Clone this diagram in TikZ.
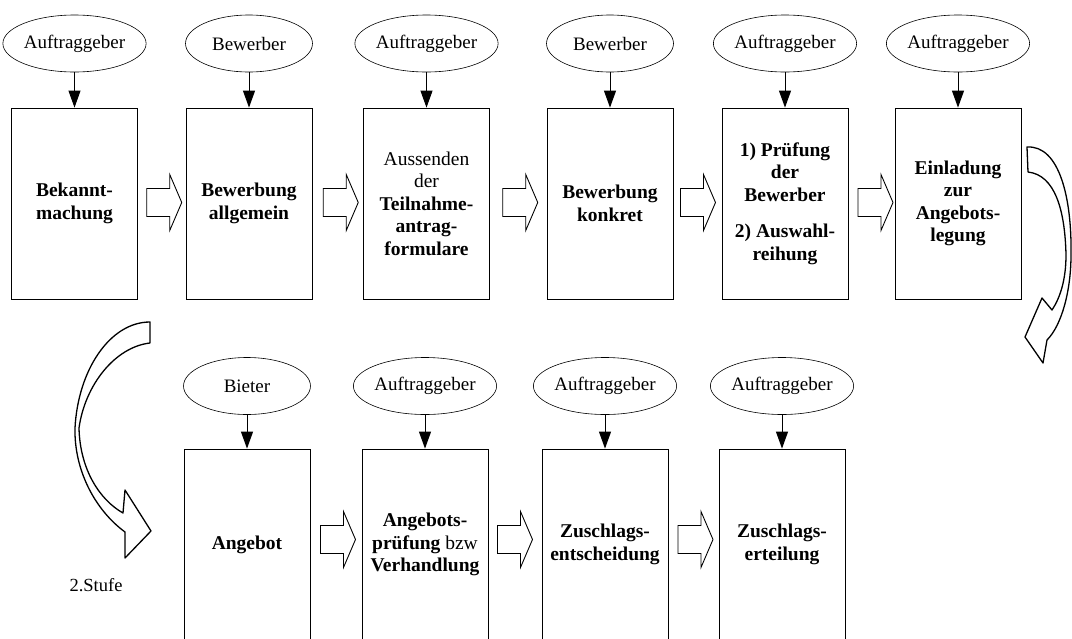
\documentclass[tikz,border=0pt]{standalone}
\usepackage{fontspec}
\setmainfont{Liberation Serif}
\usetikzlibrary{shapes.geometric,arrows.meta,calc}

\tikzset{
  actor/.style={ellipse, draw, line width=0.6pt, minimum width=127pt,
    minimum height=57pt, inner sep=0pt, font=\fontsize{19}{22}\selectfont},
  stepbox/.style={draw, line width=0.8pt, minimum width=126pt,
    minimum height=191pt, inner sep=0pt, align=center,
    font=\bfseries\fontsize{19.5}{22.5}\selectfont},
  feed/.style={-{Triangle[length=17pt,width=12pt]}, line width=1pt},
  ribbon/.style={draw, line width=1.3pt, line join=round, fill=white},
  barrow/.pic={
    \draw[line width=0.9pt, line join=miter, fill=white]
      (-17.5,-14) -- (5.5,-14) -- (5.5,-28) -- (17.5,0) -- (5.5,28)
      -- (5.5,14) -- (-17.5,14) -- cycle;
  }
}

\begin{document}
\begin{tikzpicture}[x=1pt, y=-1pt]
\useasboundingbox (0,0) rectangle (1072,638);

% ---- first stage: parties ----
\node[actor] (p1) at (74.5,43.5)  {Auftraggeber};
\node[actor] (p2) at (249,43.5)   {Bewerber};
\node[actor] (p3) at (426.5,43.5) {Auftraggeber};
\node[actor] (p4) at (610,43.5)   {Bewerber};
\node[actor] (p5) at (785,43.5)   {Auftraggeber};
\node[actor] (p6) at (958,43.5)   {Auftraggeber};

% ---- first stage: steps ----
\node[stepbox] (s1) at (74.5,203.5)  {Bekannt-\\machung};
\node[stepbox] (s2) at (249,203.5)   {Bewerbung\\allgemein};
\node[stepbox] (s3) at (426.5,203.5) {\mdseries Aussenden\\\mdseries der\\\bfseries Teilnahme-\\\bfseries antrag-\\\bfseries formulare};
\node[stepbox] (s4) at (610,203.5)   {Bewerbung\\konkret};
\node[stepbox] (s5) at (785,203.5)   {1) Prüfung\\der\\Bewerber\\[14pt]2) Auswahl-\\reihung};
\node[stepbox] (s6) at (958,203.5)   {Einladung\\zur\\Angebots-\\legung};

\foreach \i in {1,...,6} { \draw[feed] (p\i) -- (s\i); }

\path ($(s1.east)!0.5!(s2.west)$) ++(2.5,-1) pic {barrow};
\path ($(s2.east)!0.5!(s3.west)$) ++(3,-1) pic {barrow};
\path ($(s3.east)!0.5!(s4.west)$) ++(2,-1) pic {barrow};
\path ($(s4.east)!0.5!(s5.west)$) ++(0.5,-1) pic {barrow};
\path ($(s5.east)!0.5!(s6.west)$) ++(4,-1) pic {barrow};

% ---- second stage: parties ----
\node[actor] (q1) at (247,386)   {Bieter};
\node[actor] (q2) at (425,386)   {Auftraggeber};
\node[actor] (q3) at (605,386)   {Auftraggeber};
\node[actor] (q4) at (782,386)   {Auftraggeber};

% ---- second stage: steps ----
\node[stepbox] (t1) at (247,544.5) {Angebot};
\node[stepbox] (t2) at (425,544.5) {Angebots-\\prüfung \mdseries bzw\\\bfseries Verhandlung};
\node[stepbox] (t3) at (605,544.5) {Zuschlags-\\entscheidung};
\node[stepbox] (t4) at (782,544.5) {Zuschlags-\\erteilung};

\foreach \i in {1,...,4} { \draw[feed] (q\i) -- (t\i); }

\path ($(t1.east)!0.5!(t2.west)$) ++(2,-5) pic {barrow};
\path ($(t2.east)!0.5!(t3.west)$) ++(0,-5) pic {barrow};
\path ($(t3.east)!0.5!(t4.west)$) ++(2,-5) pic {barrow};

% ---- curved transition from the first to the second stage ----
\path[ribbon]
  (1027,147) .. controls (1060,145) and (1072,200) .. (1071,255)
  .. controls (1071,290) and (1062,325) .. (1047,340)
  -- (1043,363) -- (1025,337) -- (1042,298) -- (1052,310)
  .. controls (1060,298) and (1066,280) .. (1066,255)
  .. controls (1065,210) and (1055,175) .. (1028,172) -- cycle;

\path[ribbon]
  (150,322) .. controls (110,322) and (78,370) .. (75,428)
  .. controls (74,470) and (95,510) .. (125,532)
  -- (125,558) -- (151,531) -- (125,490) -- (123,513)
  .. controls (100,500) and (80,470) .. (79,428)
  .. controls (85,385) and (115,347) .. (150,343) -- cycle;

\node[font=\fontsize{18.5}{22}\selectfont] (stage) at (96,585) {2.Stufe};
\end{tikzpicture}
\end{document}
